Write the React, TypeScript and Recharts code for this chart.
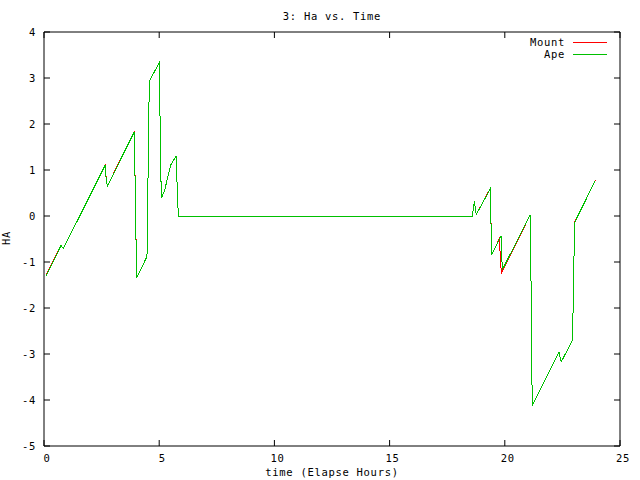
import React from 'react';
import { LineChart, Line, XAxis, YAxis } from 'recharts';

const hourTicks = [0, 5, 10, 15, 20, 25];
const haTicks = [-5, -4, -3, -2, -1, 0, 1, 2, 3, 4];

const seriesNames = ['Mount', 'Ape'];
const seriesColors = ['#ff0000', '#00c000'];

// Mount (red) trace
const mountHours = [0.1, 0.74, 0.84, 2.65, 2.71, 2.76, 3.92, 4.02, 4.47, 4.57, 5.0, 5.09, 5.22, 5.51, 5.73, 5.83, 18.59, 18.68, 18.76, 19.37, 19.43, 19.76, 19.85, 21.11, 21.19, 22.35, 22.45, 22.94, 23.03, 23.93];
const mountHa = [-1.28, -0.64, -0.71, 1.11, 0.75, 0.66, 1.84, -1.35, -0.88, 2.93, 3.33, 0.39, 0.53, 1.12, 1.3, 0, 0, 0.32, 0.03, 0.6, -0.84, -0.5, -1.24, 0.03, -4.12, -2.96, -3.17, -2.7, -0.14, 0.78];

// Ape (green) trace
const apeHours = [0.1, 0.74, 0.84, 2.65, 2.71, 2.76, 3.92, 4.02, 4.47, 4.57, 5.0, 5.09, 5.22, 5.51, 5.73, 5.83, 18.59, 18.68, 18.76, 19.37, 19.43, 19.84, 19.89, 21.11, 21.19, 22.35, 22.45, 22.94, 23.03, 23.93];
const apeHa = [-1.3, -0.64, -0.71, 1.1, 0.75, 0.66, 1.83, -1.35, -0.88, 2.93, 3.33, 0.39, 0.53, 1.12, 1.3, 0, 0, 0.32, 0.03, 0.59, -0.84, -0.43, -1.17, 0.03, -4.12, -2.96, -3.17, -2.7, -0.14, 0.77];

const mountData = mountHours.map((t, i) => ({ t, ha: mountHa[i] }));
const apeData = apeHours.map((t, i) => ({ t, ha: apeHa[i] }));

const FONT = '"DejaVu Sans Mono", monospace';
const textStyle = { fontFamily: FONT, fontSize: 10.5, letterSpacing: 0.7, fill: '#000' };

const BottomTick = ({ x, y, payload }: any) => (
  <g>
    <line x1={x} y1={y} x2={x} y2={y - 6} stroke="#000" />
    <text x={x + 3} y={y + 16} textAnchor="middle" style={textStyle}>{payload.value}</text>
  </g>
);

const TopTick = ({ x, y }: any) => <line x1={x} y1={y} x2={x} y2={y + 6} stroke="#000" />;

const LeftTick = ({ x, y, payload }: any) => (
  <g>
    <line x1={x} y1={y} x2={x + 6} y2={y} stroke="#000" />
    <text x={x - 8} y={y + 4} textAnchor="end" style={textStyle}>{payload.value}</text>
  </g>
);

const RightTick = ({ x, y }: any) => <line x1={x} y1={y} x2={x - 6} y2={y} stroke="#000" />;

const axisCommon = {
  type: 'number' as const,
  tickSize: 0,
  tickMargin: 0,
  tickLine: false,
  axisLine: { stroke: '#000' },
  allowDataOverflow: true,
};

export default function App() {
  return (
    <div style={{ position: 'absolute', left: 0, top: 0, width: 640, height: 480, background: '#fff' }}>
      <LineChart width={640} height={480} margin={{ top: 31, right: 19, bottom: 33, left: 43 }}>
        <XAxis {...axisCommon} dataKey="t" domain={[0, 25]} ticks={hourTicks} height={1} tick={<BottomTick />} />
        <XAxis {...axisCommon} xAxisId="top" orientation="top" dataKey="t" domain={[0, 25]} ticks={hourTicks} height={1} tick={<TopTick />} />
        <YAxis {...axisCommon} domain={[-5, 4]} ticks={haTicks} width={1} tick={<LeftTick />} />
        <YAxis {...axisCommon} yAxisId="right" orientation="right" domain={[-5, 4]} ticks={haTicks} width={1} tick={<RightTick />} />
        <Line
          data={mountData}
          dataKey="ha"
          name={seriesNames[0]}
          type="linear"
          stroke={seriesColors[0]}
          strokeWidth={1}
          dot={false}
          shapeRendering="crispEdges"
          isAnimationActive={false}
        />
        <Line
          data={apeData}
          dataKey="ha"
          name={seriesNames[1]}
          type="linear"
          stroke={seriesColors[1]}
          strokeWidth={1}
          dot={false}
          shapeRendering="crispEdges"
          isAnimationActive={false}
        />
      </LineChart>
      <svg width={640} height={480} style={{ position: 'absolute', left: 0, top: 0, pointerEvents: 'none' }}>
        <text x={332} y={20} textAnchor="middle" style={textStyle}>3: Ha vs. Time</text>
        <text x={332} y={476} textAnchor="middle" style={textStyle}>time (Elapse Hours)</text>
        <text transform="translate(10,238) rotate(-90)" textAnchor="middle" style={textStyle}>HA</text>
        {seriesNames.map((name, i) => (
          <g key={name}>
            <text x={565} y={46 + i * 11.5} textAnchor="end" style={textStyle}>{name}</text>
            <line x1={573} x2={607} y1={42.5 + i * 11.5} y2={42.5 + i * 11.5} stroke={seriesColors[i]} shapeRendering="crispEdges" />
          </g>
        ))}
      </svg>
    </div>
  );
}
